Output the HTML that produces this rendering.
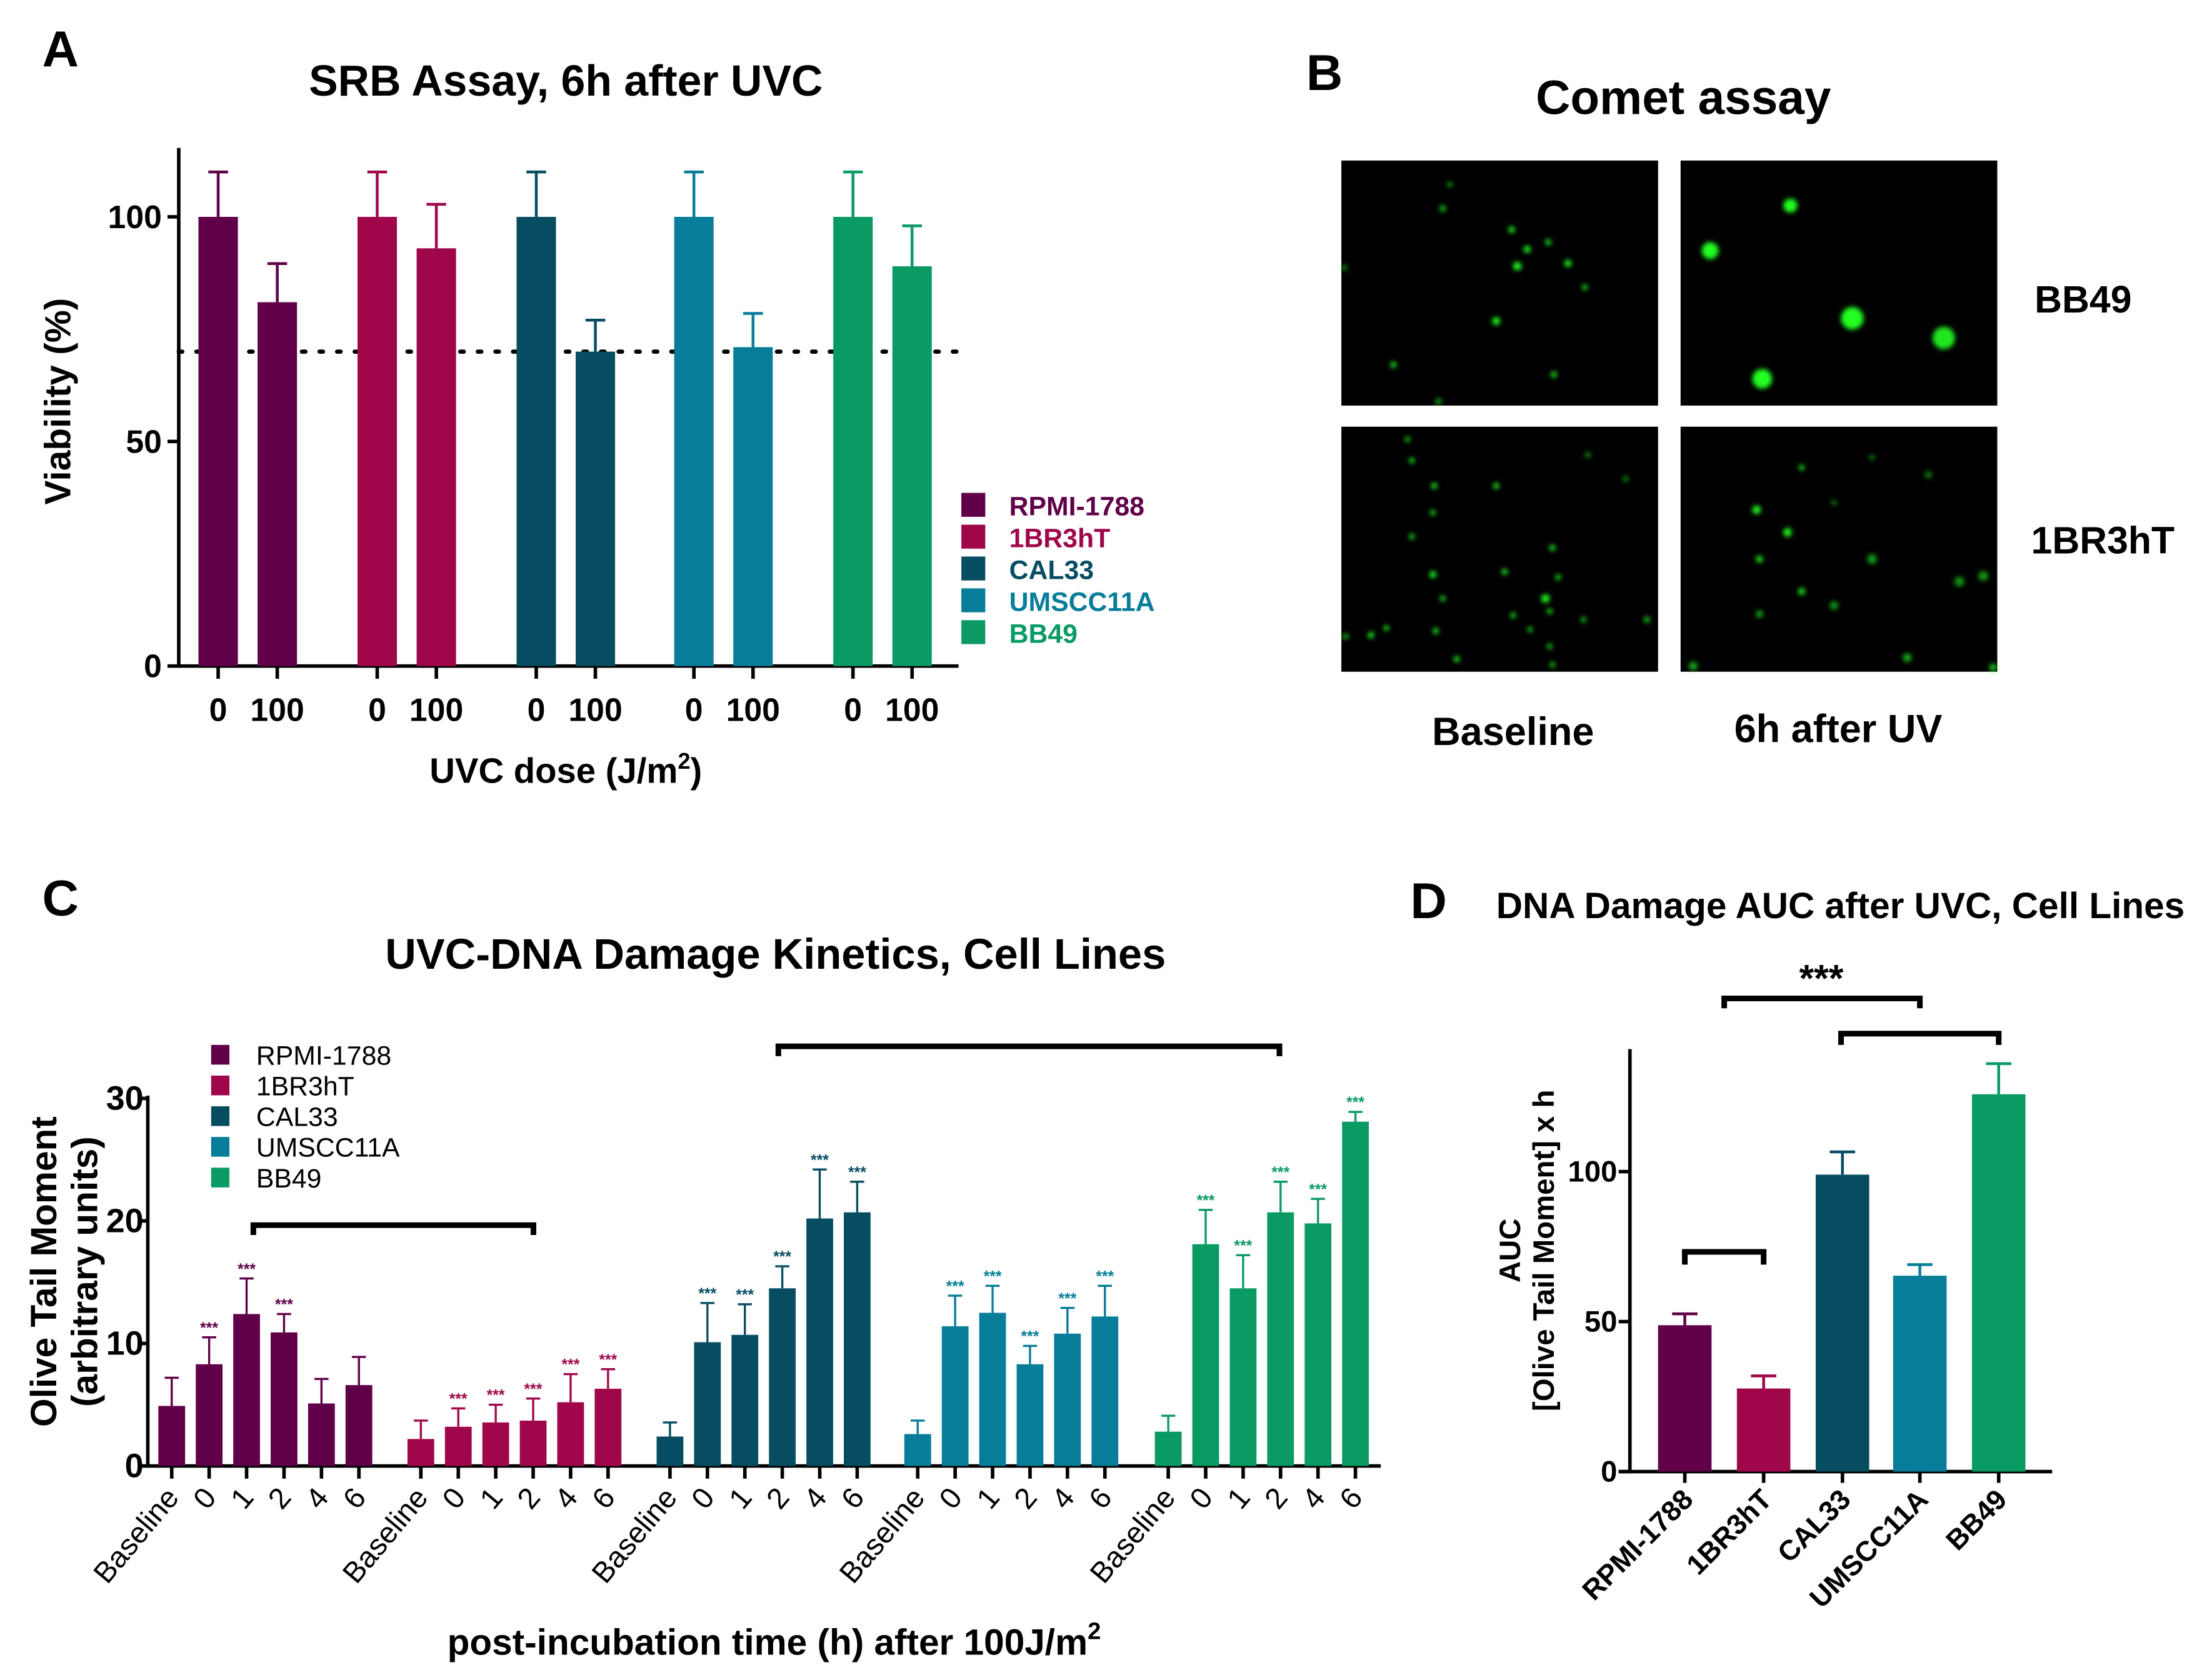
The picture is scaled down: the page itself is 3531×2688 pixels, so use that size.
<!DOCTYPE html>
<html><head><meta charset="utf-8">
<style>
html,body{margin:0;padding:0;background:#fff;}
svg{display:block;}
text{font-family:"Liberation Sans",Arial,sans-serif;}
.b{font-weight:bold;}
</style></head>
<body>
<svg id="fig" xmlns="http://www.w3.org/2000/svg" width="3531" height="2688" viewBox="0 0 1568 1193" preserveAspectRatio="none">
<defs>
<filter id="glow" x="-100%" y="-100%" width="300%" height="300%"><feGaussianBlur stdDeviation="1.6"/></filter>
</defs>
<text x="30" y="47" font-size="36" class="b">A</text>
<text x="402" y="68" font-size="31" class="b" text-anchor="middle">SRB Assay, 6h after UVC</text>
<text x="928" y="64" font-size="36" class="b">B</text>
<text x="1196" y="81" font-size="34" class="b" text-anchor="middle">Comet assay</text>
<text x="30" y="650" font-size="36" class="b">C</text>
<text x="551" y="688" font-size="30.5" class="b" text-anchor="middle">UVC-DNA Damage Kinetics, Cell Lines</text>
<text x="1002" y="652" font-size="36" class="b">D</text>
<text x="1063" y="652" font-size="26" class="b">DNA Damage AUC after UVC, Cell Lines</text>

<g id="comet">
<rect x="953" y="114" width="225" height="174" fill="#000"/>
<rect x="1194" y="114" width="225" height="174" fill="#000"/>
<rect x="953" y="303" width="225" height="174" fill="#000"/>
<rect x="1194" y="303" width="225" height="174" fill="#000"/>
</g>
<text x="1480" y="222" font-size="27" class="b" text-anchor="middle">BB49</text>
<text x="1494" y="393" font-size="27" class="b" text-anchor="middle">1BR3hT</text>
<text x="1075" y="529" font-size="28" class="b" text-anchor="middle">Baseline</text>
<text x="1306" y="527" font-size="28" class="b" text-anchor="middle">6h after UV</text>
<g id="gA"></g><g id="gC"></g><g id="gD"></g>
</svg>
<script>
const NS="http://www.w3.org/2000/svg";
function mk(parent,tag,attrs,txt){const e=document.createElementNS(NS,tag);for(const k in attrs)e.setAttribute(k,attrs[k]);if(txt!==undefined)e.textContent=txt;parent.appendChild(e);return e;}
const colors=["#5f0048","#a0074b","#074d62","#077d99","#0a9a63"];
const cellLines=["RPMI-1788","1BR3hT","CAL33","UMSCC11A","BB49"];

const aDoses=["0","100"];
const aMeans=[[100,81],[100,93],[100,70],[100,71],[100,89]];
const aErrs=[[10,8.6],[10,9.8],[10,7],[10,7.5],[10,9]];
const aTicks=[0,50,100];
const aThreshold=70;

const cTimes=["Baseline","0","1","2","4","6"];
const cMeans=[[4.9,8.3,12.4,10.9,5.1,6.6],[2.2,3.2,3.55,3.7,5.2,6.3],[2.4,10.1,10.7,14.5,20.2,20.7],[2.6,11.4,12.5,8.3,10.8,12.2],[2.8,18.1,14.5,20.7,19.8,28.1]];
const cErrs=[[2.3,2.2,2.9,1.5,2.0,2.3],[1.5,1.5,1.45,1.8,2.3,1.6],[1.15,3.2,2.5,1.8,4.0,2.5],[1.1,2.5,2.2,1.5,2.1,2.5],[1.3,2.8,2.7,2.5,2.0,0.8]];
const cSig=[[0,1,1,1,0,0],[0,1,1,1,1,1],[0,1,1,1,1,1],[0,1,1,1,1,1],[0,1,1,1,1,1]];
const cTicks=[0,10,20,30];

const dMeans=[48.8,27.7,99,65.3,125.8];
const dErrs=[3.8,4.2,7.6,3.7,10.2];
const dTicks=[0,50,100];

(function(){
const g=document.getElementById('gA');
const y=v=>473-v*3.19;
const gx=[155,268,381,493,606];
const off=[0,42];const bw=28;
mk(g,'line',{x1:127,y1:105,x2:127,y2:474,stroke:'#000','stroke-width':2.5});
mk(g,'line',{x1:126,y1:473,x2:681,y2:473,stroke:'#000','stroke-width':2.5});
aTicks.forEach(t=>{
 const l=mk(g,'line',{x1:119,y1:y(t),x2:127,y2:y(t),stroke:'#000','stroke-width':2.5});
 
 const tx=mk(g,'text',{x:115,y:y(t)+8,'font-size':23,'text-anchor':'end','class':'b'},String(t));
 
});
const thr=mk(g,'line',{x1:127,y1:y(aThreshold),x2:680,y2:y(aThreshold),stroke:'#000','stroke-width':3,'stroke-dasharray':'2.5 10','stroke-linecap':'round'});

aMeans.forEach((grp,i)=>{grp.forEach((v,j)=>{
 const cx=gx[i]+off[j];
 const r=mk(g,'rect',{x:cx-14,y:y(v),width:bw,height:473-y(v),fill:colors[i]});
 
 const et=y(v+aErrs[i][j]);
 const e=mk(g,'path',{d:`M${cx} ${y(v)}V${et}M${cx-7} ${et}H${cx+7}`,stroke:colors[i],'stroke-width':2,fill:'none'});
 
 const tk=mk(g,'line',{x1:cx,y1:473,x2:cx,y2:482,stroke:'#000','stroke-width':2.5});
 
 const tl=mk(g,'text',{x:cx,y:512,'font-size':23,'text-anchor':'middle','class':'b'},aDoses[j]);
 
});});
const yt=mk(g,'text',{x:0,y:0,'font-size':26,'text-anchor':'middle','class':'b',transform:'translate(50,285) rotate(-90)'},'Viability (%)');

const xt=mk(g,'text',{x:402,y:556,'font-size':25,'text-anchor':'middle','class':'b'});

xt.appendChild(document.createTextNode('UVC dose (J/m'));
mk(xt,'tspan',{'font-size':16,dy:-10},'2');
mk(xt,'tspan',{dy:10},')');
cellLines.forEach((n,i)=>{
 const s=mk(g,'rect',{x:683,y:350+i*22.6,width:17,height:17,fill:colors[i]});
 
 const t=mk(g,'text',{x:717,y:366+i*22.6,'font-size':19,'class':'b',fill:colors[i]},n);
 
});
})();

(function(){
const g=document.getElementById('gC');
const y=v=>1041-v*8.7;
const gStart=[122,299,476,652,830];const step=26.6;const bw=19;
mk(g,'line',{x1:105,y1:778,x2:105,y2:1042,stroke:'#000','stroke-width':2.5});
mk(g,'line',{x1:104,y1:1041,x2:981,y2:1041,stroke:'#000','stroke-width':2.5});
cTicks.forEach(t=>{
 const l=mk(g,'line',{x1:98,y1:y(t),x2:105,y2:y(t),stroke:'#000','stroke-width':2.5});
 
 const tx=mk(g,'text',{x:102,y:y(t)+8,'font-size':24,'text-anchor':'end','class':'b'},String(t));
 
});
cMeans.forEach((grp,i)=>{grp.forEach((v,j)=>{
 const cx=gStart[i]+j*step;
 const r=mk(g,'rect',{x:cx-bw/2,y:y(v),width:bw,height:1041-y(v),fill:colors[i]});
 
 const et=y(v+cErrs[i][j]);
 const e=mk(g,'path',{d:`M${cx} ${y(v)}V${et}M${cx-5} ${et}H${cx+5}`,stroke:colors[i],'stroke-width':1.5,fill:'none'});
 
 if(cSig[i][j]){const s=mk(g,'text',{x:cx,y:et-3,'font-size':11,'text-anchor':'middle','class':'b',fill:colors[i]},'***');
  }
 const tk=mk(g,'line',{x1:cx,y1:1041,x2:cx,y2:1050,stroke:'#000','stroke-width':2.5});
 
 const tl=mk(g,'text',{x:0,y:0,'font-size':21,'text-anchor':'end',transform:`translate(${cx+6},1064) rotate(-50)`},cTimes[j]);
 
});});
const b1=mk(g,'path',{d:'M180 877V870H379V877',stroke:'#000','stroke-width':4,fill:'none'});

const b2=mk(g,'path',{d:'M553 750V743H909V750',stroke:'#000','stroke-width':4,fill:'none'});

const y1=mk(g,'text',{x:0,y:0,'font-size':26,'text-anchor':'middle','class':'b',transform:'translate(40,903) rotate(-90)'},'Olive Tail Moment');

const y2=mk(g,'text',{x:0,y:0,'font-size':26,'text-anchor':'middle','class':'b',transform:'translate(69,903) rotate(-90)'},'(arbitrary units)');

const xt=mk(g,'text',{x:550,y:1175,'font-size':26,'text-anchor':'middle','class':'b'});

xt.appendChild(document.createTextNode('post-incubation time (h) after 100J/m'));
mk(xt,'tspan',{'font-size':17,dy:-11},'2');
cellLines.forEach((n,i)=>{
 const s=mk(g,'rect',{x:150,y:742+i*21.8,width:13,height:14,fill:colors[i]});
 
 const t=mk(g,'text',{x:182,y:756+i*21.8,'font-size':19},n);
 
});
})();

(function(){
const g=document.getElementById('gD');
const y=v=>1045-v*2.13;
const cxs=[1197,1253,1309,1364,1420];const bw=38;
mk(g,'line',{x1:1158,y1:745,x2:1158,y2:1046,stroke:'#000','stroke-width':2.5});
mk(g,'line',{x1:1150,y1:1045,x2:1458,y2:1045,stroke:'#000','stroke-width':2.5});
dTicks.forEach(t=>{
 const l=mk(g,'line',{x1:1150,y1:y(t),x2:1158,y2:y(t),stroke:'#000','stroke-width':2.5});
 
 const tx=mk(g,'text',{x:1149,y:y(t)+7,'font-size':21,'text-anchor':'end','class':'b'},String(t));
 
});
dMeans.forEach((v,i)=>{
 const cx=cxs[i];
 const r=mk(g,'rect',{x:cx-bw/2,y:y(v),width:bw,height:1045-y(v),fill:colors[i]});
 
 const et=y(v+dErrs[i]);
 const e=mk(g,'path',{d:`M${cx} ${y(v)}V${et}M${cx-9} ${et}H${cx+9}`,stroke:colors[i],'stroke-width':2,fill:'none'});
 
 const tk=mk(g,'line',{x1:cx,y1:1045,x2:cx,y2:1053,stroke:'#000','stroke-width':2.5});
 
 const tl=mk(g,'text',{x:0,y:0,'font-size':20,'text-anchor':'end','class':'b',transform:`translate(${cx+7},1066) rotate(-45)`},cellLines[i]);
 
});
const b1=mk(g,'path',{d:'M1225 716V709H1364V716',stroke:'#000','stroke-width':4,fill:'none'});

const st=mk(g,'text',{x:1294,y:704,'font-size':27,'text-anchor':'middle','class':'b'},'***');

const b2=mk(g,'path',{d:'M1308 742V734H1420V742',stroke:'#000','stroke-width':4,fill:'none'});

const b3=mk(g,'path',{d:'M1197 898V889H1253V898',stroke:'#000','stroke-width':4,fill:'none'});

const y1=mk(g,'text',{x:0,y:0,'font-size':21,'text-anchor':'middle','class':'b',transform:'translate(1080,888) rotate(-90)'},'AUC');

const y2=mk(g,'text',{x:0,y:0,'font-size':21,'text-anchor':'middle','class':'b',transform:'translate(1104,888) rotate(-90)'},'[Olive Tail Moment] x h');

})();

(function(){
const g=document.getElementById('comet');
const dots=[
[1030,131,2,.6],[1025,148,2.2,.8],[1074,163,2.4,.9],[1085,177,2.5,1],[1100,172,2.2,.9],[1114,187,2.5,1],[1126,204,2,.9],[1078,189,3,1],[1063,228,2.8,1],[1104,266,2.2,.9],[990,259,2.2,.9],[1022,285,2,.8],[955,190,2,.6],
[1272,146,5,1],[1215,178,6,1],[1316,226,8,1],[1381,240,8,.9],[1252,269,7,1],
[1000,312,2,.8],[1003,327,2,.9],[1019,345,2.2,.9],[1063,345,2.2,.9],[1018,364,2,.9],[1003,381,2,.9],[1103,389,2.2,.9],[1018,408,2.4,1],[1069,406,2.2,.9],[1107,410,2,.9],[1098,425,3,1],[1025,425,2,.9],[1101,434,2,.9],[1075,437,2,.9],[1125,440,2,.8],[985,446,2,.9],[974,451,2.2,1],[1020,448,2.2,.9],[1087,447,2,.8],[1101,459,2,.8],[1035,468,2.2,.9],[1103,472,2,.8],[1170,440,2.2,.8],[1128,323,2,.6],[1155,340,2,.6],[956,452,2,.8],
[1280,332,2.2,.8],[1248,362,3,1],[1270,378,3,1],[1250,397,2.5,.9],[1330,397,3.5,.6],[1280,420,2.5,.9],[1250,436,2.5,.7],[1303,430,3,.6],[1392,413,3.5,.6],[1409,409,3.5,.6],[1370,337,2.5,.5],[1303,357,2,.5],[1330,325,2,.5],[1355,467,3,.7],[1203,473,3,.7],[1416,474,2.5,.9]
];
dots.forEach(d=>{
 const c=mk(g,'circle',{cx:d[0],cy:d[1],r:d[2],fill:'#22ff22','fill-opacity':d[3],filter:'url(#glow)'});
 
});
})();
</script>
</body></html>
